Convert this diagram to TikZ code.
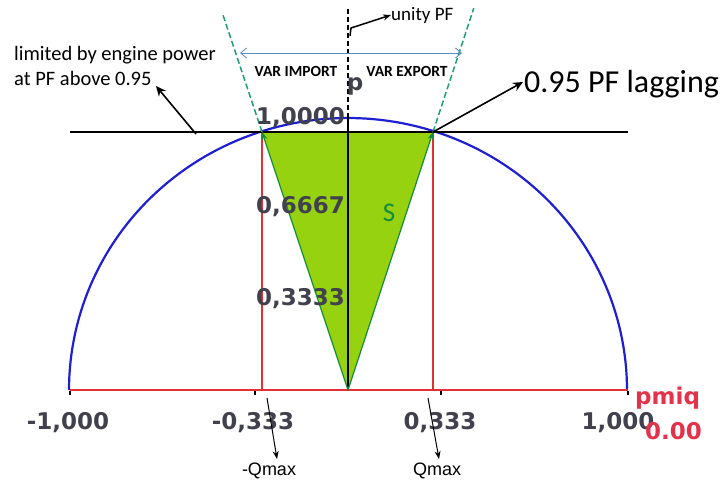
\documentclass[tikz,border=0pt]{standalone}
\usepackage{fontspec}
\setmainfont{Carlito}
\newfontfamily\arialf{Liberation Sans}
\newfontfamily\dejaf{DejaVu Sans}
\usetikzlibrary{arrows.meta,calc}
\definecolor{limefill}{RGB}{150,210,15}
\definecolor{sgreen}{RGB}{20,140,60}
\definecolor{dgreen}{RGB}{30,160,110}
\definecolor{cblue}{RGB}{30,30,210}
\definecolor{cred}{RGB}{228,48,52}
\definecolor{pred}{RGB}{228,50,75}
\definecolor{varblue}{RGB}{90,140,200}
\definecolor{tickgray}{RGB}{65,65,78}
\tikzset{
  redline/.style={draw=cred,line width=1.8pt},
  blackline/.style={draw=black,line width=2.2pt},
  sline/.style={draw=sgreen,line width=1.2pt,-{Stealth[length=8pt,width=6pt]}},
  dashline/.style={draw=dgreen,line width=1.5pt,dash pattern=on 6pt off 3pt},
  annarrow/.style={draw=black,line width=1.6pt,-{Stealth[length=10pt,width=9pt]}},
  smallarrow/.style={draw=black,line width=1pt,-{Stealth[length=8pt,width=6pt]}},
  ticklab/.style={font=\dejaf\fontsize{23}{26}\selectfont\bfseries,text=tickgray,inner sep=0pt},
  annot/.style={font=\fontsize{20.5}{23}\selectfont,inner sep=0pt,anchor=base west},
  smalltxt/.style={font=\arialf\fontsize{18}{20}\selectfont,inner sep=0pt},
  vartxt/.style={font=\fontsize{15.5}{17}\selectfont\bfseries,inner sep=0pt}
}
\begin{document}
\begin{tikzpicture}[x=1pt,y=-1pt]
\useasboundingbox (0,0) rectangle (722,482);
% key points
\coordinate (O) at (348,390);
\coordinate (L) at (262,132);
\coordinate (R) at (433,132);
\coordinate (Lb) at (262,390);
\coordinate (Rb) at (433,390);
\coordinate (Xl) at (70,390);
\coordinate (Xr) at (628,390);
\coordinate (Hl) at (70,132);
\coordinate (Hr) at (628,132);
\coordinate (Ptop) at (348,118);
\coordinate (Pdash) at (348,8);
\coordinate (TL) at ($(O)!1.455!(L)$);
\coordinate (TR) at ($(O)!1.48!(R)$);
% green triangle
\fill[limefill] (O) -- (L) -- (R) -- cycle;
% blue semicircle
\draw[cblue,line width=2.2pt] plot[domain=180:0,samples=120] ({348+279*cos(\x)},{390-272*sin(\x)});
% red lines
\draw[redline] (Xl) -- (Xr);
\draw[redline] (L) -- (Lb);
\draw[redline] (R) -- (Rb);
% axis ticks
\foreach \xx in {70,255,441,628} \draw[black,line width=1.2pt] (\xx,391) -- (\xx,395);
% black horizontal line at 0.95
\draw[blackline] (Hl) -- (Hr);
% vertical p axis
\draw[black,line width=1.5pt] (O) -- (Ptop);
\draw[black,line width=1.5pt,dash pattern=on 5pt off 3pt] (Ptop) -- (Pdash);
% S vectors
\draw[sline] (O) -- (L);
\draw[sline] (O) -- (R);
\draw[dashline] (L) -- (TL);
\draw[dashline] (R) -- (TR);
% VAR arrow
\coordinate (Va) at (240,53);
\coordinate (Vb) at (462,53);
\draw[varblue,line width=0.8pt,{Straight Barb[length=6pt,width=10pt]}-{Straight Barb[length=6pt,width=10pt]}] (Va) -- (Vb);
\node[vartxt] (vimp) at (296,71) {VAR IMPORT};
\node[vartxt] (vexp) at (407,71) {VAR EXPORT};
% labels on p axis
\node[ticklab] (plab) at (355,86) {p};
\node[ticklab,anchor=east] (p1) at (345,118) {1,0000};
\node[ticklab,anchor=east] (p2) at (345,207) {0,6667};
\node[ticklab,anchor=east] (p3) at (345,299) {0,3333};
\node[font=\fontsize{27}{30}\selectfont,text=sgreen,inner sep=0pt] (slab) at (389,213) {S};
% q axis labels
\node[ticklab] (q1) at (68,423) {-1,000};
\node[ticklab] (q2) at (253,423) {-0,333};
\node[ticklab] (q3) at (440,423) {0,333};
\node[ticklab] (q4) at (618,423) {1,000};
\node[font=\dejaf\fontsize{23}{26}\selectfont\bfseries,text=pred,inner sep=0pt,anchor=west] (pmiq) at (635,398) {pmiq};
\node[font=\dejaf\fontsize{23}{26}\selectfont\bfseries,text=pred,inner sep=0pt,anchor=west] (zero) at (645,431) {0.00};
% Qmax
\node[smalltxt] (qmn) at (269,471) {-Qmax};
\node[smalltxt] (qmp) at (437,471) {Qmax};
\coordinate (qa1) at (267,398);
\coordinate (qa2) at (428,398);
\coordinate (qb1) at (277,459);
\coordinate (qb2) at (439,459);
\draw[smallarrow] (qa1) -- (qb1);
\draw[smallarrow] (qa2) -- (qb2);
% annotations
\node[annot] (lim1) at (14,60) {limited by engine power};
\node[annot] (lim2) at (14,85) {at PF above 0.95};
\coordinate (la) at (196,134);
\coordinate (lb) at (156,86);
\draw[annarrow] (la) -- (lb);
\node[font=\fontsize{32}{36}\selectfont,inner sep=0pt,anchor=base west] (lag) at (524,92) {0.95 PF lagging};
\coordinate (lagtip) at (523,82);
\draw[annarrow] (R) -- (lagtip);
\node[font=\fontsize{19}{21}\selectfont,inner sep=0pt,anchor=west] (upf) at (391,15) {unity PF};
\coordinate (ua) at (350,36);
\coordinate (ub) at (351,28);
\draw[smallarrow,line width=1.5pt] (ua) -- (ub) -- (upf.west);
\end{tikzpicture}
\end{document}
